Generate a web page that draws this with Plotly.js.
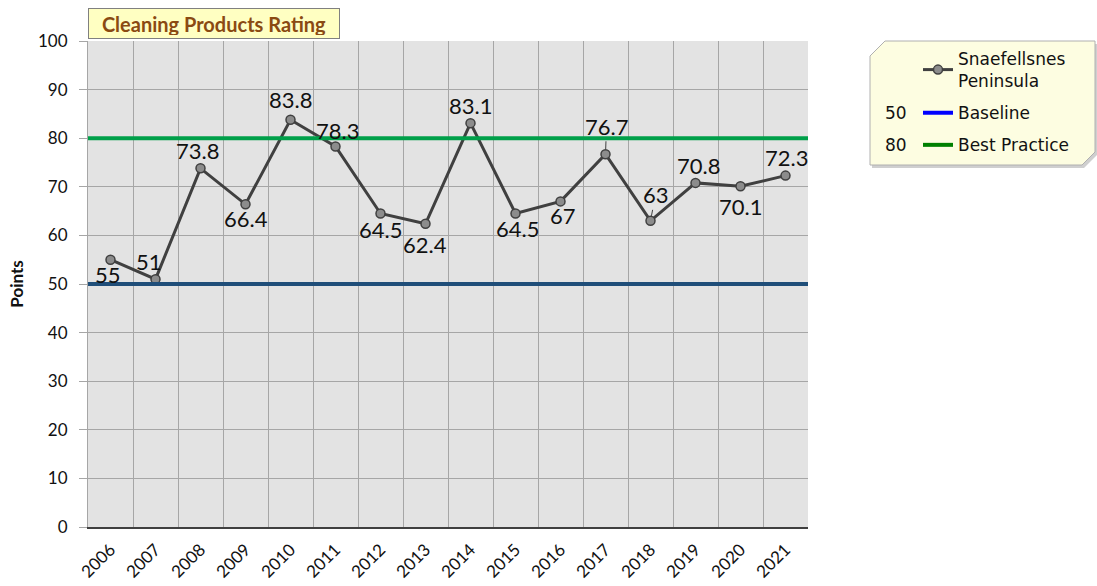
<!DOCTYPE html>
<html>
<head>
<meta charset="utf-8">
<script src="https://cdn.plot.ly/plotly-3.0.1.min.js"></script>
<style>html,body{margin:0;padding:0;background:#fff;}#chart{width:1097px;height:586px;}</style>
</head>
<body>
<div id="chart"></div>
<script>
var years = ["2006","2007","2008","2009","2010","2011","2012","2013","2014","2015","2016","2017","2018","2019","2020","2021"];
var ratings = [55, 51, 73.8, 66.4, 83.8, 78.3, 64.5, 62.4, 83.1, 64.5, 67, 76.7, 63, 70.8, 70.1, 72.3];
var seriesName = "Snaefellsnes<br>Peninsula";
var baselineValue = 50;
var bestPracticeValue = 80;
var chartTitle = "Cleaning Products Rating";
var yTitle = "Points";

// label placement (style only): pixel offsets of each data label from its point
var labelDx = [-3, -7, -3, 0, 0, 2, 0, -1, 0, 2, 2, 1, 5, 3, 0, 1];
var labelDy = [15, -18, -18, 14, -20, -16, 16, 21, -18, 15, 14, -28, -26, -17, 20, -18];
var labelLeader = [false,false,false,false,false,false,false,false,false,false,false,true,true,false,false,false];

var L = 88, R = 808, T = 41, B = 527;
function px(x){ return (x - L) / (R - L); }
function py(y){ return (B - y) / (B - T); }

var labelFont = {family: "Lato, 'Liberation Sans', sans-serif", size: 22, color: "#111"};
var legendFont = {family: "'DejaVu Sans', 'Liberation Sans', sans-serif", size: 17, color: "#111"};

var traces = [
  {
    x: years, y: ratings, type: "scatter", mode: "lines+markers",
    name: seriesName, legendgroup: "a",
    line: {color: "#404040", width: 3},
    marker: {size: 9, color: "#8c8c8c", line: {color: "#404040", width: 1.5}},
    cliponaxis: false
  },
  { x: [null], y: [null], type: "scatter", mode: "lines", name: "Baseline", legendgroup: "b",
    line: {color: "#0000ff", width: 4} },
  { x: [null], y: [null], type: "scatter", mode: "lines", name: "Best Practice", legendgroup: "c",
    line: {color: "#008000", width: 4} }
];

// annotations on a category axis use the category's serial index
var labelAnnotations = years.map(function(yr, i){
  var a = {x: years.indexOf(yr), y: ratings[i], xref: "x", yref: "y", text: String(ratings[i]),
           font: labelFont, xanchor: "center", yanchor: "middle"};
  if (labelLeader[i]) {
    a.showarrow = true; a.arrowhead = 0; a.arrowwidth = 1; a.arrowcolor = "#404040";
    a.ax = labelDx[i]; a.ay = labelDy[i]; a.standoff = 5;
  } else {
    a.showarrow = false; a.xshift = labelDx[i]; a.yshift = -labelDy[i];
  }
  return a;
});

function pathFrom(pts){
  return pts.map(function(p, k){ return (k ? "L " : "M ") + px(p[0]) + " " + py(p[1]); }).join(" ") + " Z";
}
var legendPath = pathFrom([[870,56],[885,41],[1095,41],[1095,152],[1082,165],[870,165]]);
var shadowPath = pathFrom([[872,59],[888,44],[1097,44],[1097,155],[1084,168],[872,168]]);

var layout = {
  width: 1097, height: 586,
  margin: {l: L, r: 1097 - R, t: T, b: 586 - B, pad: 0},
  paper_bgcolor: "#ffffff",
  plot_bgcolor: "#e3e3e3",
  font: {family: "Lato, 'Liberation Sans', sans-serif", color: "#111"},
  showlegend: true,
  legend: {
    x: px(918), y: py(41), xanchor: "left", yanchor: "top",
    bgcolor: "rgba(0,0,0,0)", borderwidth: 0,
    font: legendFont, traceorder: "grouped",
    itemwidth: 30, tracegroupgap: 7
  },
  xaxis: {
    type: "category", tickson: "boundaries",
    showgrid: true, gridcolor: "#a6a6a6", gridwidth: 1,
    tickangle: -45, tickfont: {size: 17, color: "#111"}, ticklabelstandoff: 4,
    ticks: "", showline: true, linecolor: "#404040", linewidth: 2,
    range: [-0.5, 15.5], fixedrange: true
  },
  yaxis: {
    range: [0, 100], tickvals: [0,10,20,30,40,50,60,70,80,90,100],
    showgrid: true, gridcolor: "#a6a6a6", gridwidth: 1,
    zeroline: false, showline: true, linecolor: "#a6a6a6", linewidth: 1,
    ticks: "outside", ticklen: 8, tickcolor: "#a6a6a6", ticklabelstandoff: 8,
    tickfont: {size: 17, color: "#111"},
    title: {text: yTitle, font: {size: 17, color: "#111", weight: "bold"}, standoff: 10}
  },
  shapes: [
    {type: "line", xref: "paper", x0: 0, x1: 1, yref: "y", y0: baselineValue, y1: baselineValue,
     line: {color: "#1f4e79", width: 4}, layer: "above"},
    {type: "line", xref: "paper", x0: 0, x1: 1, yref: "y", y0: bestPracticeValue, y1: bestPracticeValue,
     line: {color: "#00a04a", width: 4}, layer: "above"},
    {type: "path", xref: "paper", yref: "paper", path: shadowPath,
     fillcolor: "#cfcfcf", line: {width: 0}, layer: "below"},
    {type: "path", xref: "paper", yref: "paper", path: legendPath,
     fillcolor: "#fdfde1", line: {color: "#b0b0b0", width: 1}, layer: "below"}
  ],
  annotations: labelAnnotations.concat([
    {text: chartTitle, xref: "paper", yref: "paper", x: px(88), y: py(8), xanchor: "left", yanchor: "top",
     showarrow: false, font: {size: 20, color: "#8a4a12", weight: "bold"},
     width: 244, height: 23, align: "center", valign: "middle",
     bgcolor: "#ffffc2", bordercolor: "#808080", borderwidth: 1, borderpad: 3},
    {text: String(baselineValue), xref: "paper", yref: "paper", x: px(896), y: py(113),
     xanchor: "center", yanchor: "middle", showarrow: false, font: legendFont},
    {text: String(bestPracticeValue), xref: "paper", yref: "paper", x: px(896), y: py(145),
     xanchor: "center", yanchor: "middle", showarrow: false, font: legendFont}
  ])
};

Plotly.newPlot("chart", traces, layout, {displayModeBar: false, staticPlot: true});
</script>
</body>
</html>
